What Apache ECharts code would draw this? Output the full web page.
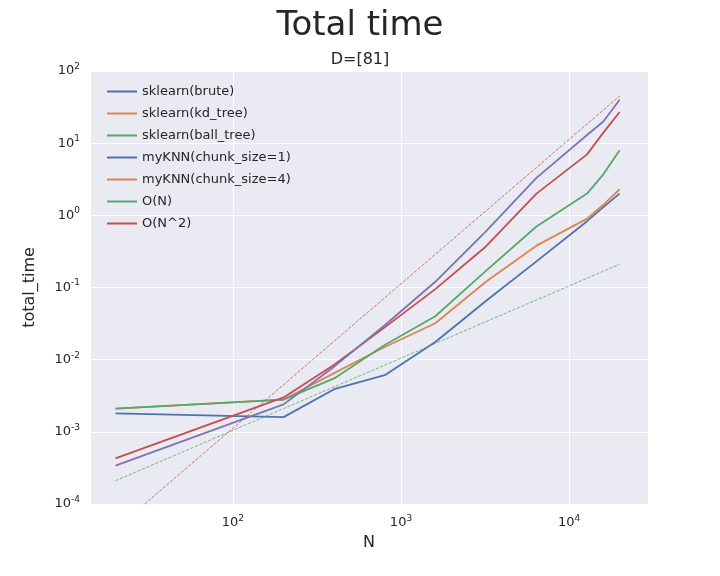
<!DOCTYPE html>
<html>
<head>
<meta charset="utf-8">
<script src="https://cdn.jsdelivr.net/npm/echarts@6/dist/echarts.min.js"></script>
<style>html,body{margin:0;background:#fff}#main{width:720px;height:576px}</style>
</head>
<body>
<div id="main"></div>
<script>
// 数据: N 和每种方法的 total_time
var sizes = [20, 200, 400, 800, 1600, 3200, 6400, 12800, 16000, 20000];
var brute = [1.8e-3, 1.6e-3, 3.9e-3, 6.1e-3, 0.0176, 0.065, 0.23, 0.83, 1.3, 2.0];
var kdTree = [2.1e-3, 2.8e-3, 6.5e-3, 0.015, 0.032, 0.12, 0.38, 0.9, 1.4, 2.3];
var ballTree = [2.1e-3, 2.8e-3, 5.5e-3, 0.016, 0.04, 0.17, 0.7, 2.0, 3.7, 8.0];
var chunk1 = [4.3e-4, 3.0e-3, 8.5e-3, 0.028, 0.095, 0.37, 2.0, 7.0, 14, 27];
var chunk4 = [3.4e-4, 2.4e-3, 8.0e-3, 0.03, 0.12, 0.6, 3.3, 13, 20, 40];
var refN = [20, 20000];
var orderN = [2.1e-4, 0.21];
var orderN2 = [4.5e-5, 45];

var names = ['sklearn(brute)', 'sklearn(kd_tree)', 'sklearn(ball_tree)',
  'myKNN(chunk_size=1)', 'myKNN(chunk_size=4)', 'O(N)', 'O(N^2)'];
// 图例颜色 (matplotlib 的颜色循环)
var legendColors = ['#4C72B0', '#DD8452', '#55A868', '#4C72B0', '#DD8452', '#55A868', '#C44E52'];

function pairs(xs, ys) {
  return xs.map(function (x, i) { return [x, ys[i]]; });
}
function powLabel(v) {
  return '{b|10}{s|' + Math.round(Math.log10(v)) + '}';
}
var labelRich = {
  b: { fontSize: 13, color: '#262626', fontFamily: 'DejaVu Sans' },
  s: { fontSize: 9, color: '#262626', fontFamily: 'DejaVu Sans', padding: [0, 0, 9, 0] }
};

var chart = echarts.init(document.getElementById('main'));
function line(name, data, color, dashed) {
  return {
    name: name, type: 'line', data: data, symbol: 'none', clip: true,
    lineStyle: { color: color, width: dashed ? 0.8 : 1.8, type: dashed ? 'dashed' : 'solid' },
    itemStyle: { color: color }
  };
}

var option = {
  animation: false,
  backgroundColor: '#fff',
  title: [
    { text: 'Total time', left: 'center', top: 4,
      textStyle: { fontSize: 34, fontWeight: 'normal', color: '#262626', fontFamily: 'DejaVu Sans' } },
    { text: 'D=[81]', left: 'center', top: 47,
      textStyle: { fontSize: 16, fontWeight: 'normal', color: '#262626', fontFamily: 'DejaVu Sans' } }
  ],
  grid: { left: 90, right: 72, top: 71, bottom: 72, show: true, backgroundColor: '#EAEAF2', borderWidth: 0 },
  legend: {
    orient: 'vertical', left: 102, top: 80, itemGap: 9,
    icon: 'rect', itemWidth: 30, itemHeight: 2,
    textStyle: { fontSize: 13, color: '#262626', fontFamily: 'DejaVu Sans' },
    data: names.map(function (n, i) {
      return { name: n, itemStyle: { color: legendColors[i] } };
    })
  },
  xAxis: {
    type: 'log', logBase: 10, min: 14.1, max: 29500,
    name: 'N', nameLocation: 'middle', nameGap: 30,
    nameTextStyle: { fontSize: 16, color: '#262626', fontFamily: 'DejaVu Sans' },
    axisLine: { show: false }, axisTick: { show: false },
    axisLabel: { formatter: powLabel, rich: labelRich, showMinLabel: false, showMaxLabel: false, margin: 10 },
    splitLine: { show: true, lineStyle: { color: '#fff', width: 1 } }
  },
  yAxis: {
    type: 'log', logBase: 10, min: 1e-4, max: 100,
    name: 'total_time', nameLocation: 'middle', nameGap: 52,
    nameTextStyle: { fontSize: 16, color: '#262626', fontFamily: 'DejaVu Sans' },
    axisLine: { show: false }, axisTick: { show: false },
    axisLabel: { formatter: powLabel, rich: labelRich, margin: 10 },
    splitLine: { show: true, lineStyle: { color: '#fff', width: 1 } }
  },
  series: [
    line(names[0], pairs(sizes, brute), '#4C72B0'),
    line(names[1], pairs(sizes, kdTree), '#DD8452'),
    line(names[2], pairs(sizes, ballTree), '#55A868'),
    line(names[3], pairs(sizes, chunk1), '#C44E52'),
    line(names[4], pairs(sizes, chunk4), '#8172B3'),
    line(names[5], pairs(refN, orderN), '#55A868', true),
    line(names[6], pairs(refN, orderN2), '#C44E52', true)
  ]
};
chart.setOption(option);
</script>
</body>
</html>
